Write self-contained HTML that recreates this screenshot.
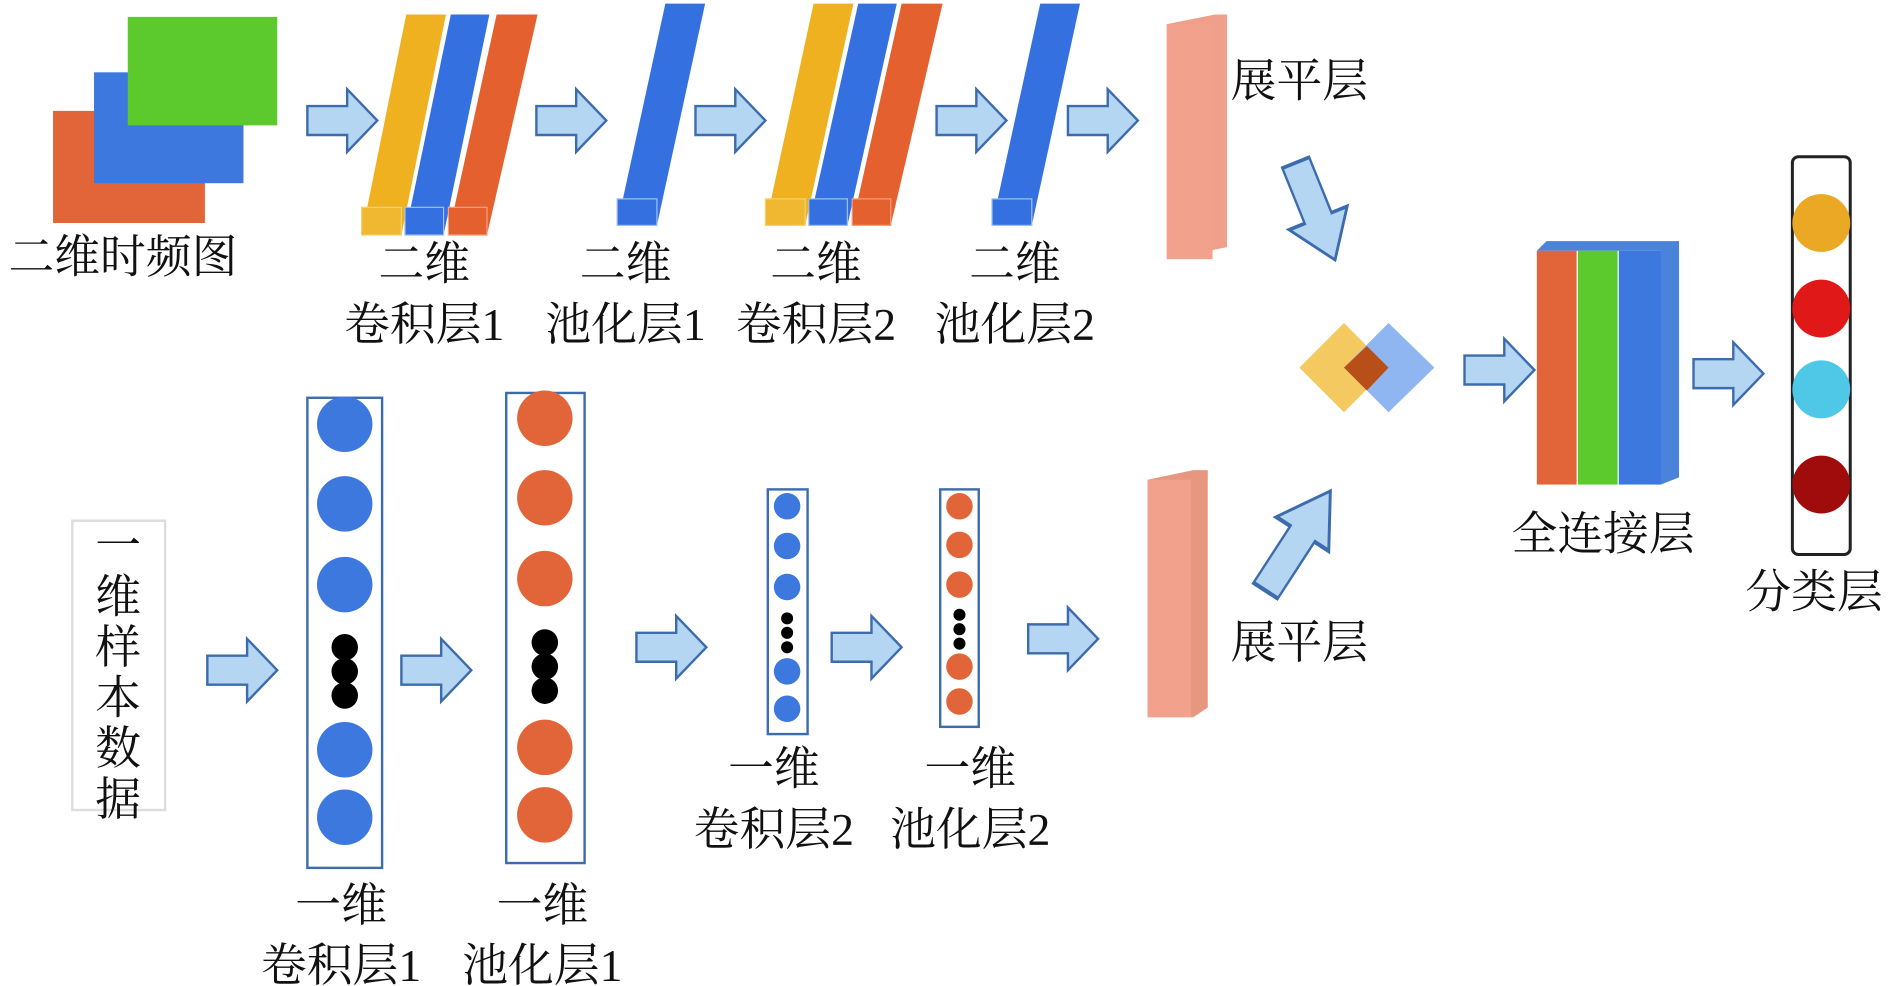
<!DOCTYPE html>
<html><head><meta charset="utf-8"><style>
html,body{margin:0;padding:0;background:#fff;}
svg{display:block;}
text{font-family:"Liberation Serif","Noto Serif CJK SC","Noto Sans CJK SC",serif;font-size:38px;fill:#111;}
</style></head><body>
<svg width="1890" height="986" viewBox="0 0 1568 818" preserveAspectRatio="none" xmlns="http://www.w3.org/2000/svg">
<defs>
<polygon id="ar" points="0,-12 33,-12 33,-26 58,0 33,26 33,12 0,12" fill="#b5d6f2" stroke="#3d6cae" stroke-width="2"/>
</defs>
<!-- 2D image -->
<rect x="44" y="92" width="126" height="93" fill="#e2653a"/>
<rect x="78" y="60" width="124" height="92" fill="#3d78de"/>
<rect x="106" y="14" width="124" height="90" fill="#5cc92c"/>
<text x="102" y="226" text-anchor="middle">二维时频图</text>

<use href="#ar" transform="translate(255,100)"/>
<!-- conv1 2D -->
<g>
<polygon points="300,195 333,195 370,12 337,12" fill="#f0b120"/>
<rect x="300" y="172" width="33" height="23" fill="#f0b830" stroke="#f7d070" stroke-width="1"/>
<polygon points="336,195 368,195 406,12 374,12" fill="#3570e0"/>
<rect x="336" y="172" width="32" height="23" fill="#3570e0" stroke="#9cc0f0" stroke-width="1"/>
<polygon points="372,195 404,195 446,12 412,12" fill="#e4612f"/>
<rect x="372" y="172" width="32" height="23" fill="#e4612f" stroke="#f5a080" stroke-width="1"/>
</g>
<use href="#ar" transform="translate(445,100)"/>
<!-- pool1 -->
<polygon points="512,187 545,187 585,3 552,3" fill="#3570e0"/>
<rect x="512" y="165" width="33" height="22" fill="#3570e0" stroke="#9cc0f0"/>
<use href="#ar" transform="translate(577,100)"/>
<!-- conv2 -->
<polygon points="635,187 668,187 708,3 675,3" fill="#f0b120"/>
<rect x="635" y="165" width="33" height="22" fill="#f0b830" stroke="#f7d070"/>
<polygon points="671,187 703,187 744,3 712,3" fill="#3570e0"/>
<rect x="671" y="165" width="32" height="22" fill="#3570e0" stroke="#9cc0f0"/>
<polygon points="707,187 739,187 782,3 748,3" fill="#e4612f"/>
<rect x="707" y="165" width="32" height="22" fill="#e4612f" stroke="#f5a080"/>
<use href="#ar" transform="translate(777,100)"/>
<!-- pool2 -->
<polygon points="823,187 856,187 896,3 863,3" fill="#3570e0"/>
<rect x="823" y="165" width="33" height="22" fill="#3570e0" stroke="#9cc0f0"/>
<use href="#ar" transform="translate(886,100)"/>
<!-- flatten 1 -->
<polygon points="968,20 1008,12 1018,12 1018,205 968,215" fill="#f0a08a"/>
<rect x="968" y="20" width="38" height="195" fill="#f2a28c"/>
<text x="1078" y="80" text-anchor="middle">展平层</text>

<text x="352" y="232" text-anchor="middle">二维</text>
<text x="352" y="282" text-anchor="middle">卷积层1</text>
<text x="519" y="232" text-anchor="middle">二维</text>
<text x="519" y="282" text-anchor="middle">池化层1</text>
<text x="677" y="232" text-anchor="middle">二维</text>
<text x="677" y="282" text-anchor="middle">卷积层2</text>
<text x="842" y="232" text-anchor="middle">二维</text>
<text x="842" y="282" text-anchor="middle">池化层2</text>

<!-- diagonal arrows -->
<use href="#ar" transform="translate(1075,135) rotate(68) scale(1.5,1)"/>
<use href="#ar" transform="translate(1050,490) rotate(-57) scale(1.7,1)"/>

<!-- fusion -->
<polygon points="1115,268 1152,305 1115,342 1078,305" fill="#f3c960"/>
<polygon points="1152,268 1190,305 1152,342 1115,305" fill="#8fb6f0"/>
<polygon points="1134,287 1152,305 1134,324 1115,305" fill="#b94f18"/>

<use href="#ar" transform="translate(1215,307)"/>
<!-- FC -->
<polygon points="1275,208 1283,200 1393,200 1393,396 1378,402 1378,208" fill="#4a84da"/>
<rect x="1275" y="208" width="33" height="194" fill="#e2653a"/>
<rect x="1309" y="208" width="33" height="194" fill="#5cc92c"/>
<rect x="1343" y="208" width="35" height="194" fill="#3d78de"/>
<text x="1330" y="456" text-anchor="middle">全连接层</text>

<use href="#ar" transform="translate(1405,310)"/>
<!-- classification -->
<rect x="1487" y="130" width="48" height="330" rx="5" fill="#fff" stroke="#222" stroke-width="2.5"/>
<circle cx="1511" cy="185" r="24" fill="#eaa825"/>
<circle cx="1511" cy="256" r="24" fill="#e01818"/>
<circle cx="1511" cy="323" r="24" fill="#4fc7e6"/>
<circle cx="1511" cy="402" r="24" fill="#a00c0c"/>
<text x="1505" y="504" text-anchor="middle">分类层</text>

<!-- 1D input -->
<rect x="60" y="432" width="77" height="240" fill="#fff" stroke="#ddd" stroke-width="2"/>
<text x="98" y="466" text-anchor="middle">一</text>
<text x="98" y="508" text-anchor="middle">维</text>
<text x="98" y="550" text-anchor="middle">样</text>
<text x="98" y="592" text-anchor="middle">本</text>
<text x="98" y="634" text-anchor="middle">数</text>
<text x="98" y="676" text-anchor="middle">据</text>

<use href="#ar" transform="translate(172,556)"/>
<!-- conv1d 1 -->
<rect x="255" y="330" width="62" height="390" fill="#fff" stroke="#3d6cae" stroke-width="2"/>
<g fill="#3d78de"><circle cx="286" cy="352" r="23"/><circle cx="286" cy="418" r="23"/><circle cx="286" cy="485" r="23"/><circle cx="286" cy="622" r="23"/><circle cx="286" cy="678" r="23"/></g>
<g fill="#000"><circle cx="286" cy="537" r="11"/><circle cx="286" cy="557" r="11"/><circle cx="286" cy="577" r="11"/></g>
<use href="#ar" transform="translate(333,556)"/>
<!-- pool1d 1 -->
<rect x="420" y="326" width="65" height="390" fill="#fff" stroke="#3d6cae" stroke-width="2"/>
<g fill="#e2653a"><circle cx="452" cy="347" r="23"/><circle cx="452" cy="413" r="23"/><circle cx="452" cy="480" r="23"/><circle cx="452" cy="620" r="23"/><circle cx="452" cy="676" r="23"/></g>
<g fill="#000"><circle cx="452" cy="533" r="11"/><circle cx="452" cy="553" r="11"/><circle cx="452" cy="573" r="11"/></g>
<use href="#ar" transform="translate(528,537)"/>
<!-- conv1d 2 -->
<rect x="637" y="406" width="33" height="203" fill="#fff" stroke="#3d6cae" stroke-width="2"/>
<g fill="#3d78de"><circle cx="653" cy="420" r="11"/><circle cx="653" cy="453" r="11"/><circle cx="653" cy="487" r="11"/><circle cx="653" cy="557" r="11"/><circle cx="653" cy="588" r="11"/></g>
<g fill="#000"><circle cx="653" cy="513" r="5"/><circle cx="653" cy="525" r="5"/><circle cx="653" cy="537" r="5"/></g>
<use href="#ar" transform="translate(690,537)"/>
<!-- pool1d 2 -->
<rect x="780" y="406" width="32" height="197" fill="#fff" stroke="#3d6cae" stroke-width="2"/>
<g fill="#e2653a"><circle cx="796" cy="420" r="11"/><circle cx="796" cy="452" r="11"/><circle cx="796" cy="485" r="11"/><circle cx="796" cy="553" r="11"/><circle cx="796" cy="582" r="11"/></g>
<g fill="#000"><circle cx="796" cy="510" r="5"/><circle cx="796" cy="522" r="5"/><circle cx="796" cy="534" r="5"/></g>
<use href="#ar" transform="translate(853,530)"/>
<!-- flatten 2 -->
<polygon points="952,398 990,390 1002,390 1002,587 990,595 952,595" fill="#e79680"/>
<rect x="952" y="398" width="36" height="197" fill="#f2a28c"/>
<text x="1078" y="546" text-anchor="middle">展平层</text>

<text x="283" y="764" text-anchor="middle">一维</text>
<text x="283" y="814" text-anchor="middle">卷积层1</text>
<text x="450" y="764" text-anchor="middle">一维</text>
<text x="450" y="814" text-anchor="middle">池化层1</text>
<text x="642" y="651" text-anchor="middle">一维</text>
<text x="642" y="701" text-anchor="middle">卷积层2</text>
<text x="805" y="651" text-anchor="middle">一维</text>
<text x="805" y="701" text-anchor="middle">池化层2</text>
</svg>
</body></html>
